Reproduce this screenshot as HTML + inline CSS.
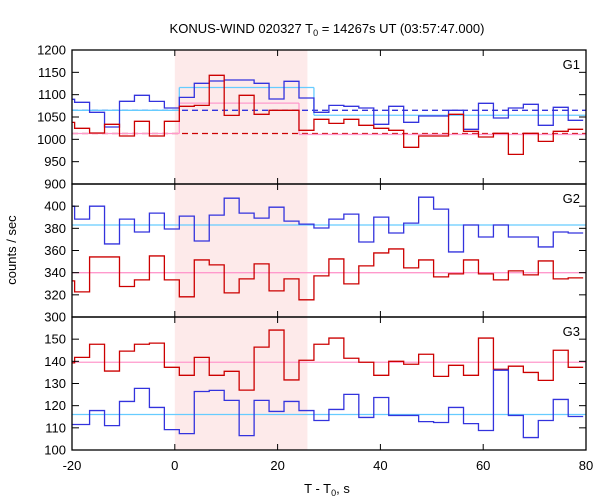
<!DOCTYPE html>
<html><head><meta charset="utf-8"><style>
body{margin:0;background:#fff}
svg{display:block;font-family:"Liberation Sans",sans-serif}
</style></head><body>
<svg id="c" width="600" height="500"></svg>
<script>
const binStart=-22.4, binStep=2.91;
const g1Blue=[1089.6,1082.9,1060.5,1027.6,1085.1,1098.5,1085,1070.2,1094,1125.4,1130.6,1132.9,1132.9,1125.4,1090.3,1129.9,1092.6,1060.5,1076.1,1073.9,1070.2,1033.6,1073.9,1038.1,1052.3,1052.3,1065,1022.4,1080.6,1047.8,1070.2,1078.4,1031.4,1071.7,1042.6];
const g1Red=[1038,1024.7,1014.2,1033.6,1007.5,1040.3,1007.5,1040.3,1073.9,1076.1,1143.3,1053.7,1098.5,1056,1065,1065,1020.2,1044.8,1035.8,1044.8,1031.4,1024.7,1020.2,982.1,1007.5,1007.5,1056,1018,1005.2,1013.5,966.4,1013.5,995.5,1018,1022.4];
const g2Blue=[400,388.3,400,365.9,388.3,376.7,393.7,379.4,391,368.6,391.9,407.2,393.7,389.2,399.1,386.5,383.8,380.3,388.3,392.8,367.7,390.1,375.8,384.7,408.1,397.3,358.7,383,372.2,383,372.2,372.2,363.2,376.7,375.8];
const g2Red=[332.6,322.7,354.2,354.2,327.5,333.5,355.1,333.5,318.2,351.5,347,321.8,334.4,347.9,323.6,334.4,315.5,337.1,352.4,329.9,346.1,357.8,361.4,344.3,351.5,336.2,338.9,351.5,338.9,333.5,341.6,338,350.6,334.4,335.3];
const g3Red=[139.3,141.8,147.7,135.6,144.6,147.7,148.2,137.3,133.7,141.8,133.7,135.5,127,146.4,154.1,131.6,140.5,147.7,150.5,141.4,139.6,133.7,140,138.7,143.2,133.2,138.2,133.7,150.5,136.4,137.8,135,131.4,145,137.3];
const g3Blue=[111.5,111.5,117.8,111,121.9,127.8,119.2,109.2,107.4,126.4,126.9,122.4,106.5,122.4,117.4,121.9,117.8,113.3,118.3,125.1,114.7,123.7,115.6,115.6,112.8,112.4,119.2,111.9,108.8,136,115.6,105.6,113.3,122.8,115.1];
const xTicks=[-20,0,20,40,60,80];
const g1Ticks=[900,950,1000,1050,1100,1150,1200];
const g2Ticks=[300,320,340,360,380,400];
const g3Ticks=[100,110,120,130,140,150];
const g1Cyan=[1065,1116,1054], g1Pink=[1013,1081,1011];
const g1BlueDash=1065, g1RedDash=1013;
const g2Cyan=383, g2Pink=340, g3Cyan=116, g3Pink=139.6;
const shade=[0,25.8];

const NS="http://www.w3.org/2000/svg", svg=document.getElementById('c');
const L=72,R=586;
const X=t=>L+(t+20)*(R-L)/100;
function mk(tag,at,parent){const e=document.createElementNS(NS,tag);for(const k in at)e.setAttribute(k,at[k]);(parent||svg).appendChild(e);return e;}
const panels=[
 {name:'g1',top:50,bot:184,min:900,max:1200,ticks:g1Ticks,label:'G1'},
 {name:'g2',top:184,bot:317,min:300,max:420,ticks:g2Ticks,label:'G2'},
 {name:'g3',top:317,bot:450,min:100,max:160,ticks:g3Ticks,label:'G3'}];
panels.forEach(p=>p.Y=v=>p.bot-(v-p.min)*(p.bot-p.top)/(p.max-p.min));
const defs=mk('defs',{});
panels.forEach((p,i)=>{const cp=mk('clipPath',{id:'cp'+i},defs);mk('rect',{x:L,y:p.top,width:R-L,height:p.bot-p.top},cp);});
const sh=mk('rect',{x:X(shade[0]),y:50,width:X(shade[1])-X(shade[0]),height:400,fill:'#fdeaea'});


const edge=i=>binStart+i*binStep;
function hist(p,vals,color,i,name){
 let d='';vals.forEach((v,k)=>{const x0=X(edge(k)),x1=X(edge(k+1)),y=p.Y(v);d+=(k?'L':'M')+x0+','+y+'L'+x1+','+y;});
 const e=mk('path',{d:d,fill:'none',stroke:color,'stroke-width':1.3,'clip-path':'url(#cp'+i+')'});
 
 
}
function hline(p,v,t0,t1,color,i,name,dash){
 const e=mk('line',{x1:X(t0),x2:X(t1),y1:p.Y(v),y2:p.Y(v),stroke:color,'stroke-width':1.3,'clip-path':'url(#cp'+i+')'});
 if(dash)e.setAttribute('stroke-dasharray','6,4');
 
 
}
const cyan='#66ccff',pink='#ff99cc',blue='#3333dd',red='#cc0000';
const e8=edge(8),e16=edge(16),e17=edge(17);
const p1=panels[0];
hline(p1,g1BlueDash,-20,80,blue,0,'g1-blue-background-dashed',true);
hline(p1,g1RedDash,-20,80,red,0,'g1-red-background-dashed',true);
hline(p1,g1Cyan[0],-20,e8,cyan,0,'g1-cyan-level-pre');hline(p1,g1Cyan[1],e8,e17,cyan,0,'g1-cyan-level-burst');hline(p1,g1Cyan[2],e17,80,cyan,0,'g1-cyan-level-post');
const vc=mk('path',{d:`M${X(e8)},${p1.Y(g1Cyan[0])}V${p1.Y(g1Cyan[1])}M${X(e17)},${p1.Y(g1Cyan[1])}V${p1.Y(g1Cyan[2])}`,stroke:cyan,'stroke-width':1.3,fill:'none'});

hline(p1,g1Pink[0],-20,e8,pink,0,'g1-pink-level-pre');hline(p1,g1Pink[1],e8,e16,pink,0,'g1-pink-level-burst');hline(p1,g1Pink[2],e16,80,pink,0,'g1-pink-level-post');
const vp=mk('path',{d:`M${X(e8)},${p1.Y(g1Pink[0])}V${p1.Y(g1Pink[1])}M${X(e16)},${p1.Y(g1Pink[1])}V${p1.Y(g1Pink[2])}`,stroke:pink,'stroke-width':1.3,fill:'none'});

hist(p1,g1Blue,blue,0,'g1-blue-histogram');hist(p1,g1Red,red,0,'g1-red-histogram');
const p2=panels[1];
hline(p2,g2Cyan,-20,80,cyan,1,'g2-cyan-level');hline(p2,g2Pink,-20,80,pink,1,'g2-pink-level');
hist(p2,g2Blue,blue,1,'g2-blue-histogram');hist(p2,g2Red,red,1,'g2-red-histogram');
const p3=panels[2];
hline(p3,g3Cyan,-20,80,cyan,2,'g3-cyan-level');hline(p3,g3Pink,-20,80,pink,2,'g3-pink-level');
hist(p3,g3Red,red,2,'g3-red-histogram');hist(p3,g3Blue,blue,2,'g3-blue-histogram');
panels.forEach((p,i)=>{
 const fr=mk('rect',{x:L,y:p.top,width:R-L,height:p.bot-p.top,fill:'none',stroke:'#000','stroke-width':1.3});
 
 p.ticks.forEach(v=>{const y=p.Y(v);
  mk('line',{x1:L,x2:L+7,y1:y,y2:y,stroke:'#000'});mk('line',{x1:R-7,x2:R,y1:y,y2:y,stroke:'#000'});
  const t=mk('text',{x:L-6,y:y+4.5,'text-anchor':'end','font-size':13});t.textContent=v;
  });
 xTicks.forEach(v=>{const x=X(v);mk('line',{x1:x,x2:x,y1:p.top,y2:p.top+6,stroke:'#000'});mk('line',{x1:x,x2:x,y1:p.bot-6,y2:p.bot,stroke:'#000'});});
 const lb=mk('text',{x:R-6,y:p.top+19,'text-anchor':'end','font-size':13});lb.textContent=p.label;
 
});
xTicks.forEach(v=>{const t=mk('text',{x:X(v),y:470,'text-anchor':'middle','font-size':13});t.textContent=v;
 });
</script>
<svg width="600" height="500" style="position:absolute;left:0;top:0;font-family:'Liberation Sans',sans-serif">
<text x="327" y="33" text-anchor="middle" font-size="13">KONUS-WIND 020327 T<tspan font-size="9" dy="3">0</tspan><tspan dy="-3"> = 14267s UT (03:57:47.000)</tspan></text>
<text x="327" y="493" text-anchor="middle" font-size="13">T - T<tspan font-size="9" dy="3">0</tspan><tspan dy="-3">, s</tspan></text>
<text transform="translate(16,250) rotate(-90)" text-anchor="middle" font-size="13">counts / sec</text>
</svg>
</body></html>
